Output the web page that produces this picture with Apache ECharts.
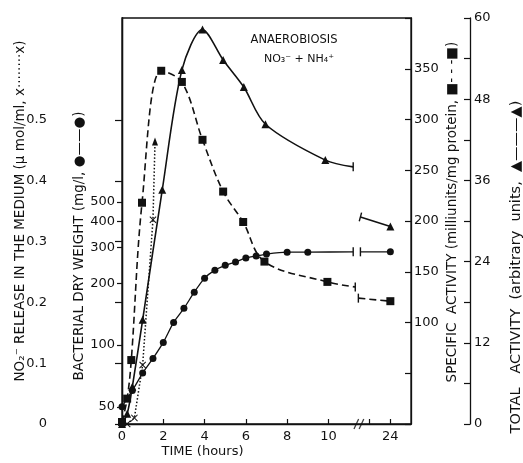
<!DOCTYPE html>
<html><head><meta charset="utf-8">
<script src="https://cdn.jsdelivr.net/npm/echarts@6/dist/echarts.min.js"></script>
<style>html,body{margin:0;padding:0;background:#fff}#c{width:523px;height:463px}</style>
</head><body><div id="c"></div>
<script>
// ---------------- data (time in hours) ----------------
const timeTicks = [0, 2, 4, 6, 8, 10, 24];
const timeMinorTicks = [23];
const no2Ticks = [0, 0.1, 0.2, 0.3, 0.4, 0.5];
const weightTicks = [50, 100, 200, 300, 400, 500];
const specificTicks = [100, 150, 200, 250, 300, 350];
const totalTicks = [0, 12, 24, 36, 48, 60];

// bacterial dry weight (mg/l), circles, solid
const weightTime = [0, 0.5, 1, 1.5, 2, 2.5, 3, 3.5, 4, 4.5, 5, 5.5, 6, 6.5, 7, 8, 9];
const weightVal  = [50, 60, 73, 86, 103, 129, 151, 181, 212, 232, 245, 254, 266, 272, 278, 284, 284];
const weightCapTime = [11.2, 22.55];
const weightCapVal  = [285, 285];
const weightLateTime = [24];
const weightLateVal  = [285];

// specific activity (milliunits/mg protein), squares, dashed
const specTime = [0, 0.25, 0.45, 0.97, 1.9, 2.9, 3.9, 4.9, 5.87, 6.9, 9.95];
const specVal  = [2, 25, 63, 218, 348, 337, 280, 229, 199, 160, 140];
const specCapTime = [11.3, 22.45];
const specCapVal  = [135, 124];
const specLateTime = [24];
const specLateVal  = [121];

// total activity (arbitrary units), triangles, solid
const totalTime = [0, 0.25, 0.5, 1, 1.95, 2.9, 3.9, 4.9, 5.9, 6.95, 9.85];
const totalVal  = [0, 1.5, 5.5, 15.4, 34.6, 52.3, 58.3, 53.8, 49.8, 44.3, 39.0];
const totalCapTime = [11.2, 22.55];
const totalCapVal  = [38.0, 30.6];
const totalLateTime = [24];
const totalLateVal  = [29.2];

// NO2- release (umol/ml), crosses, dotted; last point is an arrow head
const no2Time = [0.25, 0.6, 1, 1.5];
const no2Val  = [0, 0.01, 0.097, 0.336];
const no2ArrowTime = [1.6];
const no2ArrowVal  = [0.465];

// ---------------- broken time axis ----------------
const BREAK_FROM = 12;   // hours after this are shifted left
const BREAK_SHIFT = 11;  // 23 h -> 12, 24 h -> 13
const tx = t => (t > BREAK_FROM ? t - BREAK_SHIFT : t);
const pts = (ts, vs) => ts.map((t, i) => [tx(t), vs[i]]);

const INK = '#111';
const FONT = 'DejaVu Sans';
const CAP = { symbol: 'rect', symbolSize: [1.4, 9] };
const cross = 'path://M0,1L1,0L5,4L9,0L10,1L6,5L10,9L9,10L5,6L1,10L0,9L4,5Z';

function capItem(t, v, rot) {
  return Object.assign({ value: [tx(t), v], symbolRotate: rot || 0 }, CAP);
}

const titleStyle = { fontFamily: FONT, fontSize: 13.5, color: INK, fontWeight: 'normal' };
const labelStyle = { fontFamily: FONT, fontSize: 13, color: INK };
const lineAx = { show: true, lineStyle: { color: INK, width: 1.3 } };

const chart = echarts.init(document.getElementById('c'), null, { renderer: 'canvas' });

chart.setOption({
  backgroundColor: '#fff',
  animation: false,
  title: [
    { text: 'ANAEROBIOSIS', left: 289, top: 29, textAlign: 'center',
      textStyle: { fontFamily: FONT, fontSize: 11.5, fontWeight: 'normal', color: INK } },
    { text: 'NO\u2083\u207B + NH\u2084\u207A', left: 294, top: 49, textAlign: 'center',
      textStyle: { fontFamily: FONT, fontSize: 11, fontWeight: 'normal', color: INK } }
  ],
  grid: { left: 122, right: 112, top: 18, bottom: 39, show: true, borderColor: INK, borderWidth: 1.3,
          containLabel: false, outerBoundsMode: 'none' },
  xAxis: {
    type: 'value', min: 0, max: 14,
    axisLine: lineAx,
    axisTick: { show: true, inside: true, length: 5, lineStyle: { color: INK, width: 1.2 },
      customValues: timeTicks.concat(timeMinorTicks).map(tx) },
    axisLabel: Object.assign({ margin: 6, customValues: timeTicks.map(tx),
      formatter: v => { const i = timeTicks.findIndex(t => Math.abs(tx(t) - v) < 1e-6); return i < 0 ? '' : String(timeTicks[i]); } }, labelStyle),
    splitLine: { show: false },
    name: 'TIME (hours)', nameLocation: 'middle', nameGap: 21, nameMoveOverlap: false,
    nameTextStyle: Object.assign({}, titleStyle, { fontSize: 13, padding: [0, 128, 0, 0] })
  },
  yAxis: [
    { // 0: NO2- release
      type: 'value', position: 'left', offset: 65, min: 0, max: 0.668,
      axisLine: lineAx,
      axisTick: { show: true, inside: false, length: 7, lineStyle: { color: INK, width: 1.2 }, customValues: no2Ticks },
      axisLabel: Object.assign({ margin: 10, customValues: no2Ticks, formatter: v => (v === 0 ? '0' : v.toFixed(1)) }, labelStyle),
      splitLine: { show: false },
      name: 'NO\u2082\u207B RELEASE IN THE MEDIUM (\u00B5 mol/ml, x\u00B7\u00B7\u00B7\u00B7\u00B7\u00B7\u00B7\u00B7x)',
      nameLocation: 'middle', nameRotate: 90, nameGap: 30, nameMoveOverlap: false,
      nameTextStyle: Object.assign({}, titleStyle, { padding: [0, 0, 0, 20] })
    },
    { // 1: bacterial dry weight, log
      type: 'log', logBase: 10, position: 'left', offset: 0, min: 41.2, max: 3940,
      axisLine: lineAx,
      axisTick: { show: true, inside: false, length: 5, lineStyle: { color: INK, width: 1.2 }, customValues: weightTicks },
      axisLabel: Object.assign({ margin: 7, customValues: weightTicks, formatter: v => String(Math.round(v)) }, labelStyle),
      splitLine: { show: false }, minorTick: { show: false },
      name: 'BACTERIAL DRY WEIGHT (mg/l, \u25CF\u2014\u2014\u25CF)',
      nameLocation: 'middle', nameRotate: 90, nameGap: 36, nameMoveOverlap: false,
      nameTextStyle: Object.assign({}, titleStyle, { padding: [0, 50, 0, 0] })
    },
    { // 2: specific activity
      type: 'value', position: 'right', offset: 0, min: 0, max: 400, interval: 50,
      axisLine: lineAx,
      axisTick: { show: true, inside: true, length: 6, lineStyle: { color: INK, width: 1.2 } },
      axisLabel: Object.assign({ margin: 3, formatter: v => (specificTicks.indexOf(v) >= 0 ? String(v) : '') }, labelStyle),
      splitLine: { show: false },
      name: 'SPECIFIC  ACTIVITY (milliunits/mg protein, \u25A0- - -\u25A0)',
      nameLocation: 'middle', nameRotate: 90, nameGap: 34, nameMoveOverlap: false,
      nameTextStyle: Object.assign({}, titleStyle, { padding: [0, 0, 0, 18] })
    },
    { // 3: total activity
      type: 'value', position: 'right', offset: 59, min: 0, max: 60, interval: 6,
      axisLine: lineAx,
      axisTick: { show: true, inside: true, length: 6, lineStyle: { color: INK, width: 1.2 } },
      axisLabel: Object.assign({ margin: 4, formatter: v => (totalTicks.indexOf(v) >= 0 ? String(v) : '') }, labelStyle),
      splitLine: { show: false },
      name: 'TOTAL   ACTIVITY  (arbitrary  units,  \u25B2\u2014\u2014\u2014\u25B2)',
      nameLocation: 'middle', nameRotate: 90, nameGap: 39, nameMoveOverlap: false,
      nameTextStyle: Object.assign({}, titleStyle, { fontSize: 14.5, padding: [0, 92, 0, 0] })
    }
  ],
  series: [
    // dry weight
    { type: 'line', yAxisIndex: 1, smooth: 0.2, symbol: 'circle', symbolSize: 7,
      itemStyle: { color: INK }, lineStyle: { color: INK, width: 1.3 },
      data: pts(weightTime, weightVal).concat([capItem(weightCapTime[0], weightCapVal[0])]) },
    { type: 'line', yAxisIndex: 1, symbol: 'circle', symbolSize: 7,
      itemStyle: { color: INK }, lineStyle: { color: INK, width: 1.3 },
      data: [capItem(weightCapTime[1], weightCapVal[1])].concat(pts(weightLateTime, weightLateVal)) },
    // specific activity
    { type: 'line', yAxisIndex: 2, smooth: 0.35, symbol: 'rect', symbolSize: 8,
      itemStyle: { color: INK }, lineStyle: { color: INK, width: 1.6, type: [7, 4] },
      data: pts(specTime, specVal).concat([capItem(specCapTime[0], specCapVal[0])]) },
    { type: 'line', yAxisIndex: 2, symbol: 'rect', symbolSize: 8,
      itemStyle: { color: INK }, lineStyle: { color: INK, width: 1.6, type: [7, 4] },
      data: [capItem(specCapTime[1], specCapVal[1])].concat(pts(specLateTime, specLateVal)) },
    // total activity
    { type: 'line', yAxisIndex: 3, smooth: 0.3, symbol: 'triangle', symbolSize: 8,
      itemStyle: { color: INK }, lineStyle: { color: INK, width: 1.6 },
      data: pts(totalTime, totalVal).concat([capItem(totalCapTime[0], totalCapVal[0])]) },
    { type: 'line', yAxisIndex: 3, symbol: 'triangle', symbolSize: 8,
      itemStyle: { color: INK }, lineStyle: { color: INK, width: 1.6 },
      data: [capItem(totalCapTime[1], totalCapVal[1], -15)].concat(pts(totalLateTime, totalLateVal)) },
    // NO2- release
    { type: 'line', yAxisIndex: 0, symbol: cross, symbolSize: 7,
      itemStyle: { color: INK }, lineStyle: { color: INK, width: 1.5, type: [1.5, 2] },
      data: pts(no2Time, no2Val).concat(pts(no2ArrowTime, no2ArrowVal).map(p => ({ value: p, symbol: 'triangle', symbolSize: [6, 8] }))) },
    // axis break marks on the time axis
    { type: 'scatter', yAxisIndex: 2, symbol: 'rect', symbolSize: [1.3, 11], symbolRotate: -25,
      itemStyle: { color: INK }, silent: true,
      data: [[11.35, 0], [11.6, 0]] }
  ]
});
</script></body></html>
